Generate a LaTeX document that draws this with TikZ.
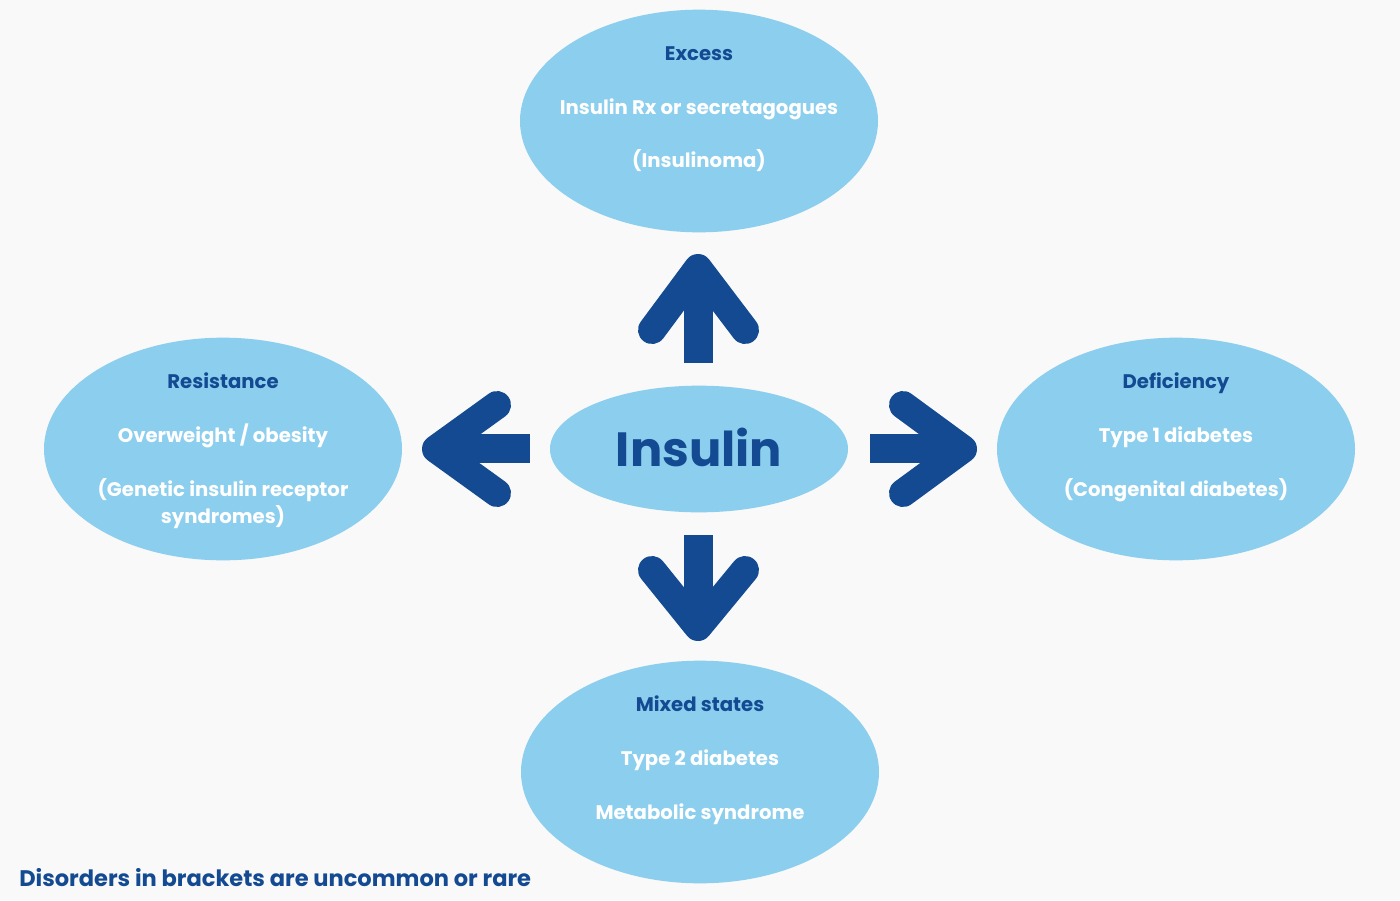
\documentclass[tikz,border=0pt]{standalone}
\usepackage{fontspec}
\setmainfont{Poppins}
\usetikzlibrary{shapes.geometric}
\definecolor{lb}{HTML}{8CCEEE}
\definecolor{db}{HTML}{134A91}
\definecolor{bg}{HTML}{F9F9F9}
\begin{document}
\begin{tikzpicture}[x=0.75pt,y=-0.75pt,
 bubble/.style={ellipse,fill=lb,inner sep=0pt},
 big/.style={bubble,minimum width=268.5pt,minimum height=167pt},
 head/.style={font=\fontsize{14.75}{17}\selectfont\bfseries,text=db,inner sep=0pt,text height=10.5pt,text depth=3.5pt},
 body/.style={font=\fontsize{14.75}{20.25}\selectfont\bfseries,text=white,align=center,inner sep=0pt,text height=10.5pt,text depth=3.5pt},
 shaft/.style={fill=db},
 chev/.style={draw=db,line width=21pt,line cap=round,line join=round}
]
\fill[bg] (0,0) rectangle (1400,900);
\useasboundingbox (0,0) rectangle (1400,900);

% ellipses
\node[big] (top) at (699,121) {};
\node[big] (left) at (223,449) {};
\node[big] (right) at (1176,449) {};
\node[big] (bottom) at (700,772) {};
\node[bubble,minimum width=223.5pt,minimum height=95pt] (center) at (699,449) {};
\node[font=\fontsize{36}{40}\selectfont\bfseries,text=db] (ins) at (699,447) {Insulin};

% texts top
\node[head] (t1) at (699,56) {Excess};
\node[body] (t2) at (699,110) {Insulin Rx or secretagogues};
\node[body] (t3) at (699,163) {(Insulinoma)};
% left
\node[head] (l1) at (223,384) {Resistance};
\node[body] (l2) at (223,438) {Overweight / obesity};
\node[body] (l3) at (223,492) {(Genetic insulin receptor};
\node[body] (l4) at (223,519) {syndromes)};
% right
\node[head] (r1) at (1176,384) {Deficiency};
\node[body] (r2) at (1176,438) {Type 1 diabetes};
\node[body] (r3) at (1176,492) {(Congenital diabetes)};
% bottom
\node[head] (b1) at (700,707) {Mixed states};
\node[body] (b2) at (700,761) {Type 2 diabetes};
\node[body] (b3) at (700,815) {Metabolic syndrome};

% arrows
\fill[shaft] (684,363) rectangle (713,285);
\draw[chev] (652,330) -- (698,268) -- (745,330);
\fill[shaft] (530,434) rectangle (455,463);
\draw[chev] (497,405) -- (436,449) -- (497,493);
\fill[shaft] (870,434) rectangle (945,463);
\draw[chev] (903,405) -- (963,449) -- (903,493);
\fill[shaft] (684,535) rectangle (713,615);
\draw[chev] (652,570) -- (698,627) -- (745,570);

% footnote
\node[anchor=west,font=\fontsize{16.9}{19}\selectfont\bfseries,text=db,inner sep=0pt] (note) at (19,878) {Disorders in brackets are uncommon or rare};
\end{tikzpicture}
\end{document}
